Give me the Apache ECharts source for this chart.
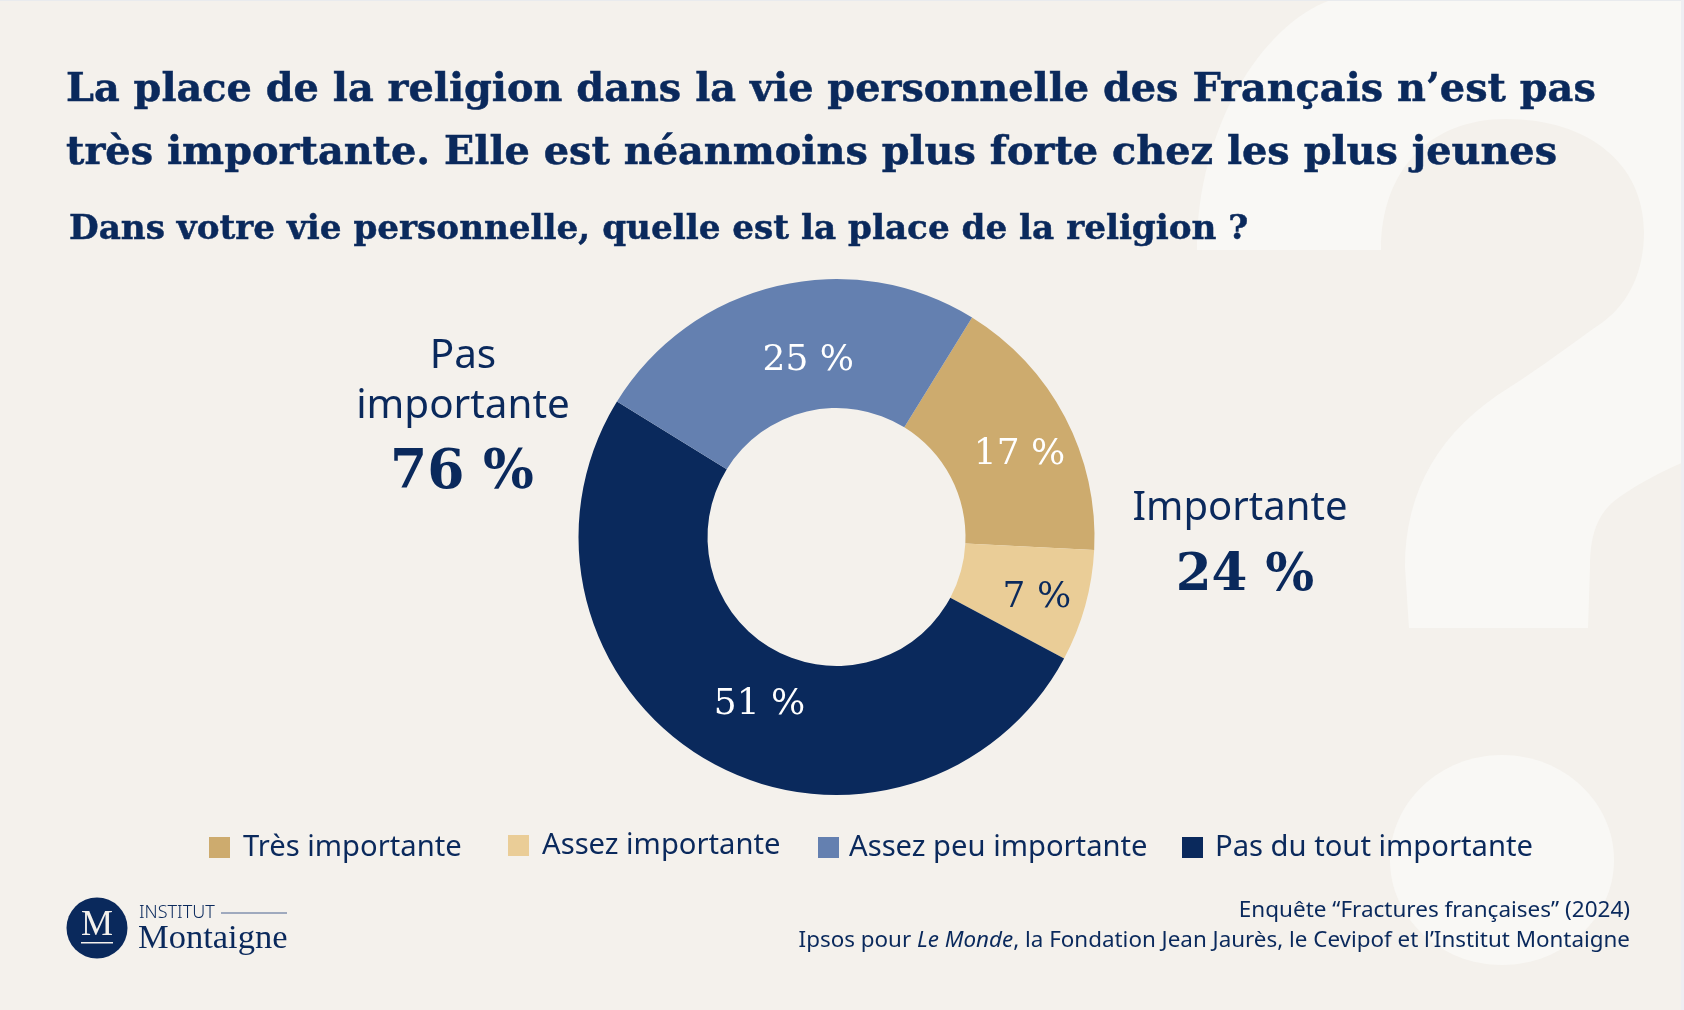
<!DOCTYPE html>
<html>
<head>
<meta charset="utf-8">
<style>
html,body{margin:0;padding:0;background:#f4f1ec;}
#chart{width:1684px;height:1010px;}
</style>
<script src="https://cdn.jsdelivr.net/npm/echarts@6/dist/echarts.min.js"></script>
</head>
<body>
<div id="chart"></div>
<script>
var categories = ['Très importante', 'Assez importante', 'Pas du tout importante', 'Assez peu importante'];
var values = [17, 7, 51, 25];
var colors = ['#cdab6e', '#eacd97', '#0a295c', '#6480b0'];
var labelColors = ['#fff', '#0a295c', '#fff', '#fff'];
var labelOffsets = [[9, 9], [11, 8], [21, -3], [17, 15]];
var legendOrder = ['Très importante', 'Assez importante', 'Assez peu importante', 'Pas du tout importante'];
var legendLeft = [209, 508, 818, 1182];
var legendTop = [833, 831, 833, 833];
var legendGap = [8, 8, 5, 7];

var titleLines = [
    'La place de la religion dans la vie personnelle des Français n’est pas',
    'très importante. Elle est néanmoins plus forte chez les plus jeunes'
];
var question = 'Dans votre vie personnelle, quelle est la place de la religion ?';
var sourceLines = [
    'Enquête “Fractures françaises” (2024)',
    'Ipsos pour {i|Le Monde}, la Fondation Jean Jaurès, le Cevipof et l’Institut Montaigne'
];

var navy = '#0a295c';
var serif = '"DejaVu Serif"';
var sans = '"Noto Sans"';
var heavy = {stroke: navy, lineWidth: 0.5};

var chart = echarts.init(document.getElementById('chart'), null, {renderer: 'canvas'});

function text(x, y, str, size, family, weight, align, extra) {
    var style = {
        x: x, y: y, text: str, fill: navy,
        font: (weight || 'normal') + ' ' + size + 'px ' + family,
        textAlign: align || 'left', textVerticalAlign: 'middle'
    };
    for (var k in extra) { style[k] = extra[k]; }
    return {type: 'text', silent: true, style: style};
}

// le grand point d'interrogation du fond
var markPath = 'M1331 0 C1260 25 1197 130 1197 250 L1381 250 C1381 170 1430 119 1506 119 ' +
    'C1590 119 1644 165 1644 232 C1644 270 1630 302 1603 322 C1570 345 1540 368 1510 387 ' +
    'C1440 430 1405 490 1405 567 L1409 628 L1588 628 L1590 567 C1590 530 1600 510 1621 496 ' +
    'C1640 483 1660 472 1684 462 L1684 0 Z';

function renderMark() {
    return {
        type: 'group',
        children: [
            {type: 'path', shape: {pathData: markPath, layout: 'cover', x: 1197, y: 0, width: 487, height: 628}, style: {fill: '#f9f8f5'}},
            {type: 'ellipse', shape: {cx: 1502, cy: 860, rx: 112, ry: 105}, style: {fill: '#f9f8f5'}},
            // liseré haut et droit de l'image
            {type: 'rect', shape: {x: 0, y: 0, width: 1684, height: 1}, style: {fill: '#e9ebee'}},
            {type: 'rect', shape: {x: 1681, y: 0, width: 3, height: 1010}, style: {fill: '#eeeef3'}}
        ]
    };
}

var graphics = [
    text(66, 91, titleLines[0], 39.8, serif, 'bold', 'left', heavy),
    text(66, 154, titleLines[1], 39.8, serif, 'bold', 'left', heavy),
    text(69, 230, question, 34.2, serif, 'bold', 'left', heavy),
    text(463, 356, 'Pas', 40.4, sans, 'normal', 'center'),
    text(463, 406, 'importante', 40.4, sans, 'normal', 'center'),
    text(462, 474, '76 %', 53.5, serif, 'bold', 'center'),
    text(1240, 509, 'Importante', 40, sans, 'normal', 'center'),
    text(1245, 577, '24 %', 51.5, serif, 'bold', 'center'),
    text(1630, 911, sourceLines[0], 22.5, sans, 'normal', 'right'),
    text(1630, 941, sourceLines[1], 22.4, sans, 'normal', 'right', {
        rich: {i: {fontStyle: 'italic', fontFamily: 'Noto Sans', fontSize: 22.4, fill: navy}}
    }),
    // logo
    {type: 'circle', silent: true, shape: {cx: 97, cy: 928, r: 30.5}, style: {fill: navy}},
    text(97, 926, 'M', 36, '"Liberation Serif"', 'normal', 'center', {fill: '#f4f1ec'}),
    {type: 'rect', silent: true, shape: {x: 81, y: 942, width: 32, height: 1.5}, style: {fill: '#f4f1ec'}},
    text(139, 913, 'INSTITUT', 18, sans, '300'),
    {type: 'line', silent: true, shape: {x1: 221, y1: 913, x2: 287, y2: 913}, style: {stroke: '#4a6390', lineWidth: 1}},
    text(138, 939, 'Montaigne', 34.5, '"Liberation Serif"', 'normal')
];

var legends = [];
for (var i = 0; i < legendOrder.length; i++) {
    legends.push({
        data: [legendOrder[i]],
        left: legendLeft[i],
        top: legendTop[i],
        padding: 0,
        icon: 'rect',
        itemWidth: 21,
        itemHeight: 21,
        selectedMode: false,
        textStyle: {color: navy, fontFamily: 'Noto Sans', fontSize: 29.2, padding: [0, 0, 0, legendGap[i]]}
    });
}

var pieData = [];
for (var j = 0; j < categories.length; j++) {
    pieData.push({
        name: categories[j],
        value: values[j],
        itemStyle: {color: colors[j]},
        label: {color: labelColors[j], offset: labelOffsets[j]}
    });
}

var option = {
    backgroundColor: '#f4f1ec',
    animation: false,
    legend: legends,
    graphic: {elements: graphics},
    series: [
        {
            type: 'custom',
            coordinateSystem: 'none',
            silent: true,
            z: -1,
            data: [0],
            renderItem: renderMark
        },
        {
            type: 'pie',
            z: 2,
            center: [836.5, 537],
            radius: [129, 258],
            startAngle: 58.3,
            clockwise: true,
            silent: true,
            avoidLabelOverlap: false,
            data: pieData,
            itemStyle: {borderWidth: 0},
            label: {
                show: true,
                position: 'inside',
                formatter: '{c} %',
                fontFamily: 'DejaVu Serif',
                fontSize: 36
            },
            labelLine: {show: false}
        }
    ]
};
chart.setOption(option);
</script>
</body>
</html>
